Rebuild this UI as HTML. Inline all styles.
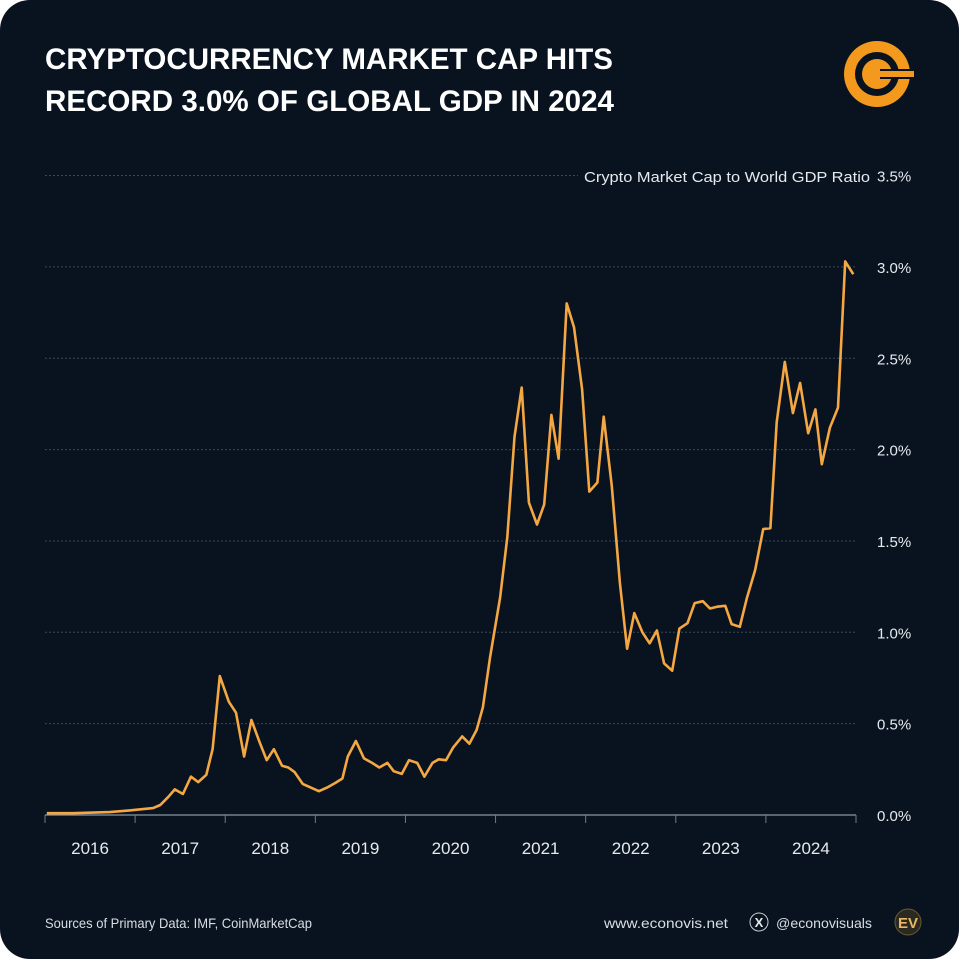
<!DOCTYPE html>
<html><head><meta charset="utf-8"><style>
html,body{margin:0;padding:0;background:#fff;}
#wrap{width:959px;height:959px;position:relative;overflow:hidden;}
svg{display:block;font-family:"Liberation Sans",sans-serif;}
</style></head><body>
<div id="wrap">
<svg id="chart" width="959" height="959" viewBox="0 0 959 959">
<rect x="0" y="0" width="959" height="959" rx="30" fill="#08131f"/>
<text x="45" y="69" font-size="30" font-weight="bold" fill="#ffffff" textLength="568" lengthAdjust="spacingAndGlyphs">CRYPTOCURRENCY MARKET CAP HITS</text>
<text x="45" y="111" font-size="30" font-weight="bold" fill="#ffffff" textLength="569" lengthAdjust="spacingAndGlyphs">RECORD 3.0% OF GLOBAL GDP IN 2024</text>
<g>
<circle cx="877" cy="74" r="33" fill="#f39a1e"/>
<circle cx="877" cy="74" r="22" fill="#08131f"/>
<circle cx="877" cy="74" r="15" fill="#f39a1e"/>
<rect x="880" y="69" width="34" height="10" fill="#08131f"/>
<rect x="877" y="71" width="37" height="6" fill="#f39a1e"/>
</g>
<text x="870" y="182" font-size="15" fill="#e6e9ee" text-anchor="end" textLength="286" lengthAdjust="spacingAndGlyphs">Crypto Market Cap to World GDP Ratio</text>
<g id="grid"></g>
<g id="yticks"></g>
<g id="xaxis"></g>
<path id="line" fill="none" stroke="#f5a742" stroke-width="2.6" stroke-linejoin="round"/>
<text x="45" y="928" font-size="14" fill="#d8dde4" textLength="267" lengthAdjust="spacingAndGlyphs">Sources of Primary Data: IMF, CoinMarketCap</text>
<text x="604" y="928" font-size="14" fill="#d8dde4" textLength="124" lengthAdjust="spacingAndGlyphs">www.econovis.net</text>
<g>
<circle cx="759" cy="922" r="9" fill="none" stroke="#c8ced6" stroke-width="1"/>
<text x="759" y="927" font-size="13" font-weight="bold" fill="#e6e9ee" text-anchor="middle">X</text>
</g>
<text x="776" y="928" font-size="14" fill="#d8dde4" textLength="96" lengthAdjust="spacingAndGlyphs">@econovisuals</text>
<g>
<circle cx="908" cy="922" r="13" fill="#2a2a22" stroke="#6b5a30" stroke-width="1"/>
<text x="908" y="928" font-size="15" font-weight="bold" fill="#e8b864" text-anchor="middle">EV</text>
</g>
</svg>
</div>
<script>
const dates=[2016.02,2016.31,2016.72,2016.98,2017.20,2017.28,2017.37,2017.44,2017.53,2017.62,2017.70,2017.79,2017.86,2017.94,
2018.04,2018.12,2018.21,2018.29,2018.38,2018.46,2018.54,2018.63,2018.70,2018.77,2018.86,2018.95,
2019.04,2019.13,2019.22,2019.30,2019.36,2019.45,2019.54,2019.63,2019.71,2019.80,2019.87,2019.96,
2020.04,2020.13,2020.21,2020.30,2020.37,2020.45,2020.53,2020.63,2020.71,2020.79,2020.86,2020.94,
2021.05,2021.13,2021.21,2021.29,2021.37,2021.46,2021.54,2021.62,2021.70,2021.79,2021.87,2021.96,
2022.04,2022.13,2022.20,2022.29,2022.38,2022.46,2022.54,2022.63,2022.71,2022.79,2022.87,2022.96,
2023.04,2023.13,2023.21,2023.30,2023.38,2023.46,2023.55,2023.62,2023.71,2023.79,2023.88,2023.97,
2024.05,2024.12,2024.21,2024.30,2024.38,2024.47,2024.55,2024.62,2024.71,2024.80,2024.88,2024.97];
const ratioValues=[0.01,0.01,0.016,0.027,0.038,0.055,0.10,0.14,0.115,0.21,0.18,0.22,0.36,0.76,
0.62,0.56,0.32,0.52,0.40,0.30,0.36,0.27,0.26,0.235,0.17,0.15,
0.13,0.15,0.175,0.20,0.32,0.405,0.31,0.285,0.26,0.285,0.24,0.225,
0.30,0.285,0.21,0.285,0.305,0.30,0.37,0.43,0.39,0.465,0.59,0.865,
1.19,1.52,2.07,2.34,1.71,1.59,1.70,2.19,1.95,2.80,2.67,2.33,
1.77,1.82,2.18,1.80,1.27,0.91,1.105,1.00,0.94,1.01,0.83,0.79,
1.02,1.05,1.16,1.17,1.13,1.14,1.145,1.045,1.03,1.19,1.34,1.565,
1.57,2.15,2.48,2.20,2.365,2.09,2.22,1.92,2.12,2.23,3.03,2.96];
const yTickValues=[0,0.5,1.0,1.5,2.0,2.5,3.0,3.5];
const yTickLabels=["0.0%","0.5%","1.0%","1.5%","2.0%","2.5%","3.0%","3.5%"];
const yearLabels=["2016","2017","2018","2019","2020","2021","2022","2023","2024"];

const X0=45,X1=856,T0=2016,T1=2025,Y0=815,YPER=182.7;
const xScale=t=>X0+(t-T0)/(T1-T0)*(X1-X0);
const yScale=v=>Y0-v*YPER;
const NS="http://www.w3.org/2000/svg";
const grid=document.getElementById('grid'),yt=document.getElementById('yticks'),xa=document.getElementById('xaxis');
yTickValues.forEach((v,i)=>{
  const y=yScale(v);
  if(i>0){
    const l=document.createElementNS(NS,'line');
    
    
    l.setAttribute('x1',X0);l.setAttribute('x2',i===7?578:X1);l.setAttribute('y1',y);l.setAttribute('y2',y);
    l.setAttribute('stroke','#3a4756');l.setAttribute('stroke-width','1');l.setAttribute('stroke-dasharray','2 2');
    grid.appendChild(l);
  }
  const t=document.createElementNS(NS,'text');
  
  
  t.setAttribute('x',877);t.setAttribute('y',y+6);t.setAttribute('font-size','15');t.setAttribute('fill','#e6e9ee');
  t.textContent=yTickLabels[i];
  yt.appendChild(t);
});
const ax=document.createElementNS(NS,'line');


ax.setAttribute('x1',X0);ax.setAttribute('x2',X1);ax.setAttribute('y1',Y0);ax.setAttribute('y2',Y0);
ax.setAttribute('stroke','#8a96a4');ax.setAttribute('stroke-width','1.2');
xa.appendChild(ax);
for(let i=0;i<=yearLabels.length;i++){
  const x=xScale(T0+i);
  const tk=document.createElementNS(NS,'line');
  
  
  tk.setAttribute('x1',x);tk.setAttribute('x2',x);tk.setAttribute('y1',Y0);tk.setAttribute('y2',Y0+8);
  tk.setAttribute('stroke','#6f7b89');tk.setAttribute('stroke-width','1');
  xa.appendChild(tk);
  if(i<yearLabels.length){
    const t=document.createElementNS(NS,'text');
    
    
    t.setAttribute('x',xScale(T0+i+0.5));t.setAttribute('y',854);t.setAttribute('font-size','17');
    t.setAttribute('fill','#e6e9ee');t.setAttribute('text-anchor','middle');
    t.textContent=yearLabels[i];
    xa.appendChild(t);
  }
}
let d='';
dates.forEach((t,i)=>{d+=(i?'L':'M')+xScale(t).toFixed(1)+','+yScale(ratioValues[i]).toFixed(1);});
document.getElementById('line').setAttribute('d',d);
</script>
</body></html>
